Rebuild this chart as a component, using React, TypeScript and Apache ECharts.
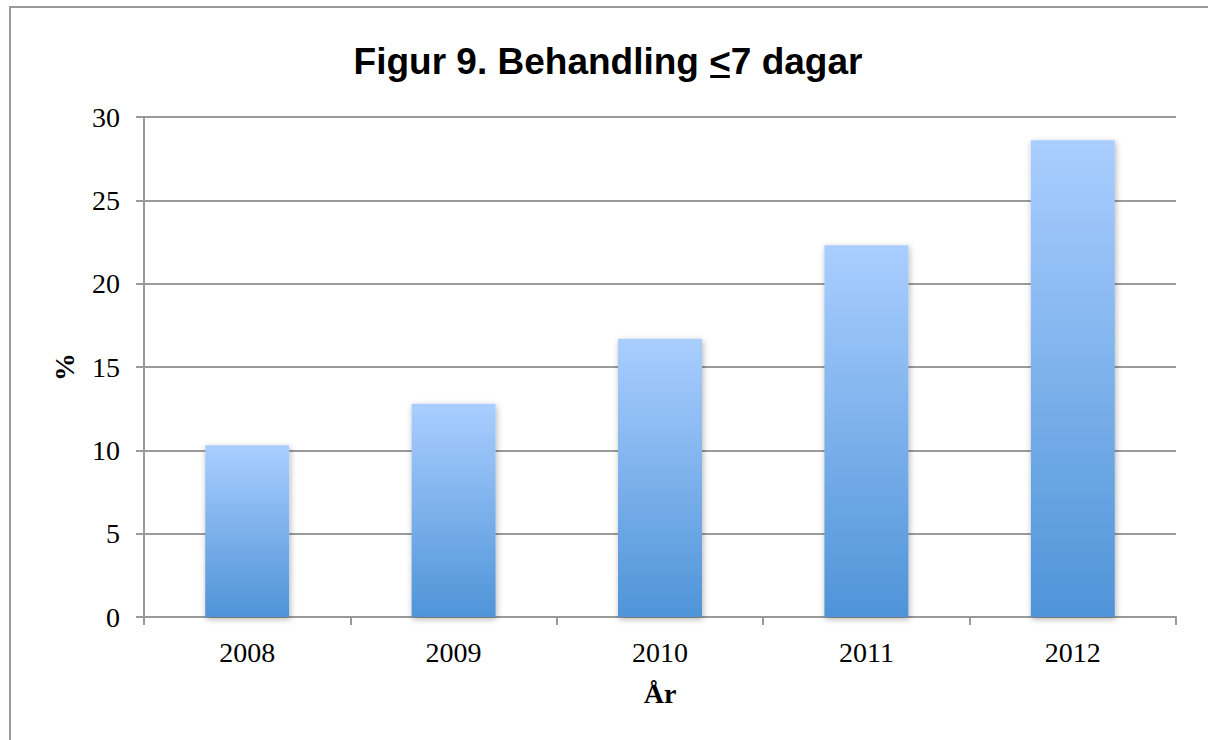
import React, { useEffect, useRef } from "react";
import * as echarts from "echarts";

const categories = ["2008", "2009", "2010", "2011", "2012"];
const values = [10.3, 12.8, 16.7, 22.3, 28.6];
const yTicks = { min: 0, max: 30, interval: 5 };
const titleParts = ["Figur 9. Behandling ", "<", "7 dagar"];
const xName = "År";
const yName = "%";

const TITLE_FONT = "bold 37px 'Liberation Sans', Arial, sans-serif";

function measure(text: string, font: string): number {
  const c = document.createElement("canvas");
  const ctx = c.getContext("2d");
  if (!ctx) return text.length * 20;
  ctx.font = font;
  return ctx.measureText(text).width;
}

export default function App() {
  const ref = useRef<HTMLDivElement>(null);
  useEffect(() => {
    if (!ref.current) return;
    const chart = echarts.init(ref.current, undefined, { renderer: "svg" });
    const full = titleParts.join("");
    const titleCx = 608;
    const titleW = measure(full, TITLE_FONT);
    const preW = measure(titleParts[0], TITLE_FONT);
    const ltW = measure(titleParts[1], TITLE_FONT);
    const titleLeft = titleCx - titleW / 2;
    const serif = "'Liberation Serif', 'Times New Roman', serif";
    chart.setOption({
      animation: false,
      backgroundColor: "#ffffff",
      graphic: [
        {
          type: "rect",
          shape: { x: 10, y: 7, width: 1230, height: 760 },
          style: { fill: "none", stroke: "#9a9a9a", lineWidth: 2 },
          silent: true,
        },
        {
          type: "text",
          x: titleCx,
          y: 61,
          style: {
            text: full,
            fill: "#000",
            font: TITLE_FONT,
            textAlign: "center",
            textVerticalAlign: "middle",
          },
        },
        {
          type: "rect",
          shape: { x: titleLeft + preW + 1, y: 75, width: ltW - 2, height: 3 },
          style: { fill: "#000" },
        },
      ],
      grid: { left: 144, right: 32, top: 117, bottom: 123 },
      xAxis: {
        type: "category",
        data: categories,
        name: xName,
        nameLocation: "middle",
        nameGap: 62,
        nameTextStyle: { fontFamily: serif, fontWeight: "bold", fontSize: 28, color: "#000" },
        axisLine: { lineStyle: { color: "#9a9a9a", width: 2 } },
        axisTick: { show: true, length: 8, lineStyle: { color: "#9a9a9a", width: 2 } },
        axisLabel: { fontFamily: serif, fontSize: 28, color: "#000", margin: 21 },
      },
      yAxis: {
        type: "value",
        min: yTicks.min,
        max: yTicks.max,
        interval: yTicks.interval,
        name: yName,
        nameLocation: "middle",
        nameGap: 66,
        nameTextStyle: { fontFamily: serif, fontWeight: "bold", fontSize: 28, color: "#000" },
        axisLine: { show: true, lineStyle: { color: "#9a9a9a", width: 2 } },
        axisTick: { show: true, length: 8, lineStyle: { color: "#9a9a9a", width: 2 } },
        axisLabel: { fontFamily: serif, fontSize: 28, color: "#000", margin: 24 },
        splitLine: { lineStyle: { color: "#9a9a9a", width: 2 } },
      },
      series: [
        {
          type: "bar",
          data: values,
          barWidth: 84,
          itemStyle: {
            color: new echarts.graphic.LinearGradient(0, 0, 0, 1, [
              { offset: 0, color: "#aaceff" },
              { offset: 1, color: "#4f94d8" },
            ]),
            shadowColor: "rgba(0,0,0,0.3)",
            shadowBlur: 6,
            shadowOffsetX: 1,
            shadowOffsetY: 2,
          },
        },
      ],
    });
    return () => chart.dispose();
  }, []);
  return (
    <div
      ref={ref}
      style={{ position: "absolute", left: 0, top: 0, width: 1208, height: 740 }}
    />
  );
}
